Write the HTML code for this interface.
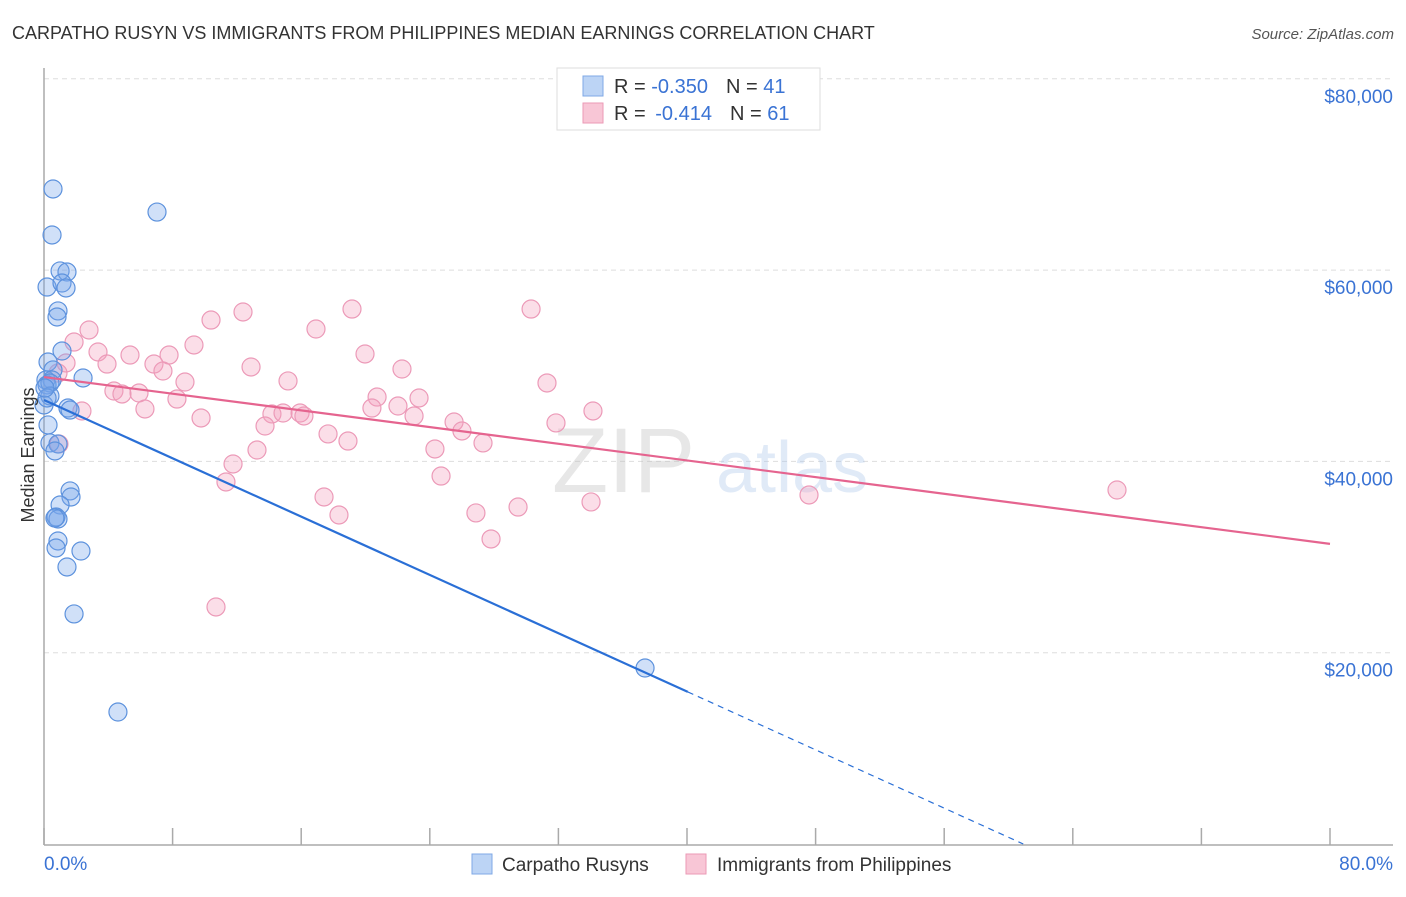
<!DOCTYPE html>
<html><head><meta charset="utf-8"><style>
body{margin:0;background:#fff;font-family:"Liberation Sans",sans-serif;}
svg text{font-family:"Liberation Sans",sans-serif;}
</style></head><body>
<svg id="chart" width="1406" height="892" xmlns="http://www.w3.org/2000/svg">
<text x="12" y="39" font-size="18" fill="#333">CARPATHO RUSYN VS IMMIGRANTS FROM PHILIPPINES MEDIAN EARNINGS CORRELATION CHART</text>
<text x="1394" y="39" font-size="15" fill="#555" font-style="italic" text-anchor="end">Source: ZipAtlas.com</text>
<g id="grid"></g>
<g opacity="0.35">
<text x="552" y="492" font-size="92" fill="#bbb" font-family="Liberation Serif">ZIP</text>
<text x="716" y="492" font-size="72" fill="#a9c4ea">atlas</text>
</g>
<line x1="44" y1="68" x2="44" y2="845" stroke="#aaa" stroke-width="1.5"/>
<line x1="44" y1="845" x2="1393" y2="845" stroke="#aaa" stroke-width="1.5"/>
<g id="xticks"></g>
<g id="pts"></g>
<g id="lines"></g>
<text transform="translate(34,455) rotate(-90)" font-size="18" fill="#333" text-anchor="middle">Median Earnings</text>
<text x="44" y="870" font-size="19" fill="#3a73d4">0.0%</text>
<text x="1393" y="870" font-size="19" fill="#3a73d4" text-anchor="end">80.0%</text>
<g>
<rect x="557" y="68" width="263" height="62" fill="#fff" stroke="#ddd"/>
<rect x="583" y="76" width="20" height="20" fill="#bcd4f5" stroke="#7fa8e6"/>
<rect x="583" y="103" width="20" height="20" fill="#f8c6d6" stroke="#eb9ab6"/>
<text x="614" y="93" font-size="20" fill="#333">R = <tspan fill="#3a73d4">-0.350</tspan><tspan dx="18">N = </tspan><tspan fill="#3a73d4">41</tspan></text>
<text x="614" y="120" font-size="20" fill="#333">R = <tspan dx="4" fill="#3a73d4">-0.414</tspan><tspan dx="18">N = </tspan><tspan fill="#3a73d4">61</tspan></text>
</g>
<g>
<rect x="472" y="854" width="20" height="20" fill="#bcd4f5" stroke="#7fa8e6"/>
<text x="502" y="871" font-size="19" fill="#333">Carpatho Rusyns</text>
<rect x="686" y="854" width="20" height="20" fill="#f8c6d6" stroke="#eb9ab6"/>
<text x="717" y="871" font-size="19" fill="#333">Immigrants from Philippines</text>
</g>
</svg>
<script>
const yTicks=[20000,40000,60000,80000];
const yTickLabels=["$20,000","$40,000","$60,000","$80,000"];
const blueX=[0.56,7.03,0.50,1.00,1.43,0.19,1.12,1.37,0.87,0.81,1.12,0.25,0.56,0.12,0.50,2.43,0.19,0.37,1.49,1.62,0.25,0.37,0.87,0.68,1.62,1.68,1.00,0.75,0.87,0.68,0.87,0.75,2.30,1.43,1.87,4.60,37.39,0,0.37,0.19,0.06];
const blueY=[68480,66070,63670,59910,59800,58230,58650,58130,55730,55100,51540,50390,49560,48510,48510,48720,47990,48200,45580,45370,43810,41930,41820,41090,36910,36280,35440,34190,33980,34080,31680,30950,30630,28960,24050,13800,18400,45900,46840,46630,47670];
const pinkX=[2.80,10.39,12.38,19.16,30.30,16.92,1.87,9.33,3.36,5.35,7.78,19.97,6.84,3.92,1.37,12.88,22.27,7.40,0.87,15.18,8.77,31.29,4.35,5.91,4.85,20.72,23.33,8.27,6.28,22.02,2.36,20.40,34.15,14.18,14.87,15.93,16.17,23.02,9.77,25.51,31.85,13.75,26.00,17.67,18.91,27.31,0.93,24.32,13.25,11.76,24.70,11.32,66.75,47.59,17.42,34.03,29.49,26.87,18.35,27.81,10.70];
const pinkY=[53740,54780,55620,55930,55930,53840,52480,52170,51440,51120,51120,51230,50180,50180,50290,49870,49660,49450,49240,48410,48300,48200,47360,47150,47050,46730,46630,46520,45480,45790,45270,45580,45270,44960,45060,45060,44750,44750,44540,44120,44020,43700,43180,42870,42130,41930,41820,41300,41190,39730,38470,37850,37010,36490,36280,35760,35230,34610,34400,31890,24780];
const blueTrend=[46420,-762];   // intercept, slope per %
const pinkTrend=[48820,-218];
const NS="http://www.w3.org/2000/svg";
const sx=v=>44+v*(1286/80);
const sy=v=>844-v*(191.3/20000);
function mk(tag,attrs,parent){const e=document.createElementNS(NS,tag);for(const k in attrs)e.setAttribute(k,attrs[k]);parent.appendChild(e);return e;}
const grid=document.getElementById('grid');
yTicks.forEach((t,i)=>{
  const l=mk('line',{x1:44,x2:1393,y1:sy(t),y2:sy(t),stroke:'#ddd','stroke-dasharray':'5,4'},grid);
  
  
  const tx=mk('text',{x:1393,y:sy(t)+24,'font-size':19,fill:'#3a73d4','text-anchor':'end'},grid);
  tx.textContent=yTickLabels[i];
  
  
});
const xt=document.getElementById('xticks');
for(let i=0;i<=10;i++){
  const l=mk('line',{x1:sx(i*8),x2:sx(i*8),y1:828,y2:845,stroke:'#aaa','stroke-width':1.5},xt);
  
  
}
const pts=document.getElementById('pts');
pinkX.forEach((x,i)=>{
  const c=mk('circle',{cx:sx(x),cy:sy(pinkY[i]),r:9,fill:'rgba(244,160,190,0.35)',stroke:'#ec9ab8','stroke-width':1.2},pts);
  
  
});
blueX.forEach((x,i)=>{
  const c=mk('circle',{cx:sx(x),cy:sy(blueY[i]),r:9,fill:'rgba(120,165,235,0.35)',stroke:'#5d92dd','stroke-width':1.2},pts);
  
  
});
const ln=document.getElementById('lines');
const f=(t,x)=>t[0]+t[1]*x;
let l1=mk('line',{x1:sx(0),y1:sy(f(pinkTrend,0)),x2:sx(80),y2:sy(f(pinkTrend,80)),stroke:'#e5648f','stroke-width':2.2},ln);


const bEnd=40.05, bZero=-blueTrend[0]/blueTrend[1];
let l2=mk('line',{x1:sx(0),y1:sy(f(blueTrend,0)),x2:sx(bEnd),y2:sy(f(blueTrend,bEnd)),stroke:'#2a6fd6','stroke-width':2.2},ln);


let l3=mk('line',{x1:sx(bEnd),y1:sy(f(blueTrend,bEnd)),x2:sx(bZero),y2:sy(0),stroke:'#2a6fd6','stroke-width':1.2,'stroke-dasharray':'6,5'},ln);


</script>
</body></html>
